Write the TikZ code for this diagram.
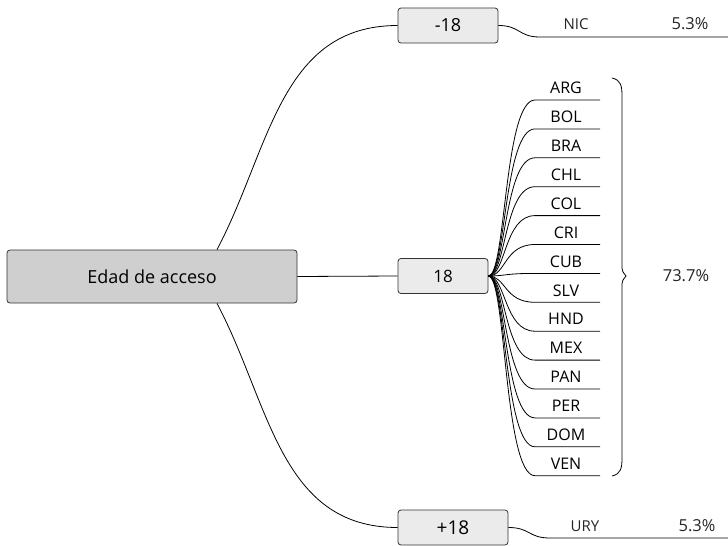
\documentclass[tikz,border=0pt]{standalone}
\usepackage{fontspec}
\setmainfont{Open Sans}
\begin{document}
\begin{tikzpicture}[x=1pt,y=-1pt,
  box/.style={draw=black!80, rounded corners=3pt, line width=0.8pt, fill=black!8, minimum height=35pt, inner sep=0pt},
  conn/.style={draw=black, line width=0.8pt},
  leaf/.style={inner sep=0pt, font=\fontsize{16}{18}\selectfont},
  lbl/.style={inner sep=0pt, text=black!85, font=\fontsize{15}{18}\selectfont},
  pctlbl/.style={inner sep=0pt, text=black!85, font=\fontsize{16.5}{18}\selectfont}]
\useasboundingbox (0,0) rectangle (728,546);
\node[box, fill=black!19, minimum width=290pt, minimum height=53pt, font=\fontsize{18}{20}\selectfont] (root) at (152,276.5) {Edad de acceso};
\node[box, minimum width=100pt, font=\fontsize{18}{20}\selectfont] (m18) at (448,25.5) {-18};
\node[box, minimum width=90pt, font=\fontsize{17}{20}\selectfont] (e18) at (443,276) {18};
\node[box, minimum width=110pt, font=\fontsize{19}{20}\selectfont] (p18) at (453,527.5) {+18};
% main connectors
\draw[conn] ([xshift=65pt]root.north) .. controls +(53,-100) and +(-118,0) .. (m18.west);
\draw[conn] ([xshift=65pt]root.south) .. controls +(53,100) and +(-118,0) .. (p18.west);
\draw[conn] (root.east) -- (e18.west);
% -18 branch
\node[lbl] (nic) at (576,24) {NIC};
\node[pctlbl] (nicp) at (690,24) {5.3\%};
\coordinate (nicS) at (540,37);
\coordinate (nicE) at (728,37);
\draw[conn] (m18.east) .. controls +(22,0) and +(-22,0) .. (nicS) -- (nicE);
% +18 branch
\node[lbl] (ury) at (585,526) {URY};
\node[pctlbl] (uryp) at (697,526) {5.3\%};
\coordinate (uryS) at (550,538);
\coordinate (uryE) at (728,538);
\draw[conn] (p18.east) .. controls +(22,0) and +(-22,0) .. (uryS) -- (uryE);
% 18 branch leaves
\foreach \name [count=\i] in {ARG,BOL,BRA,CHL,COL,CRI,CUB,SLV,HND,MEX,PAN,PER,DOM,VEN}{
  \pgfmathsetmacro{\yy}{100+28.9*(\i-1)}
  \node[leaf] (\name) at (566,\yy-12) {\name};
  \coordinate (\name s) at (535,\yy);
  \coordinate (\name e) at (600,\yy);
  \draw[conn] (e18.east) .. controls (506,276) and (504,\yy) .. (\name s) -- (\name e);
}
% brace
\draw[line width=0.8pt] (612,78) .. controls (621,80) and (622,86) .. (622,96) -- (622,264)
  .. controls (622,271) .. (626,276) .. controls (622,281) .. (622,288) -- (622,458)
  .. controls (622,468) and (621,474) .. (612,476);
\node[pctlbl] (pct) at (686,276) {73.7\%};
\end{tikzpicture}
\end{document}
